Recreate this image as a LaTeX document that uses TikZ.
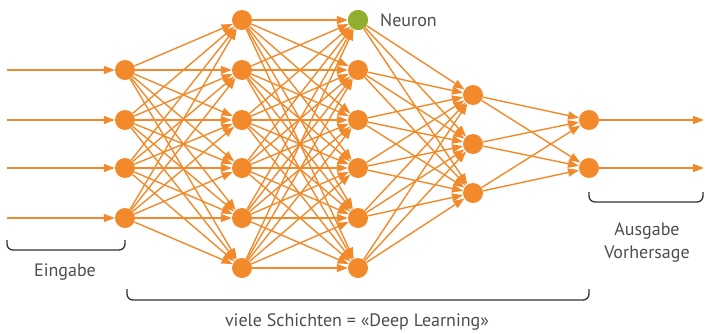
\documentclass[tikz,border=0pt]{standalone}
\usepackage{fontspec}
\setmainfont{PT Sans}
\usetikzlibrary{arrows.meta}

\definecolor{nnorange}{HTML}{F28A2B}
\definecolor{nngreen}{HTML}{8FB02E}
\definecolor{textgray}{HTML}{4D4D4D}
\definecolor{bracegray}{HTML}{333333}

\begin{document}
\begin{tikzpicture}[x=1pt,y=-1pt]
\tikzstyle{every node}=[font=\fontsize{18}{23}\selectfont, text=textgray]
\tikzstyle{neuron}=[circle, fill=nnorange, minimum size=20pt, inner sep=0pt]
\tikzstyle{link}=[draw=nnorange, line width=1.4pt, -{Triangle[length=11pt,width=8pt]}]
\tikzstyle{brace}=[draw=bracegray, line width=1.3pt, rounded corners=6pt]

\useasboundingbox (0,0) rectangle (705,333);

% input layer
\foreach \i/\y in {1/70,2/120,3/168,4/218} {
	\coordinate (x\i) at (7,\y);
	\node[neuron] (a\i) at (125,\y) {};
}

% hidden layers
\foreach \i/\y in {1/20,2/70,3/120,4/168,5/218,6/268} {
	\node[neuron] (b\i) at (242,\y) {};
	\node[neuron] (c\i) at (358,\y) {};
}
\node[neuron, fill=nngreen] at (c1) {};
\foreach \i/\y in {1/95,2/144,3/193}
	\node[neuron] (d\i) at (473,\y) {};

% output layer
\foreach \i/\y in {1/120,2/168} {
	\node[neuron] (e\i) at (589,\y) {};
	\coordinate (y\i) at (704,\y);
}

% connections
\foreach \i in {1,...,4} \draw[link] (x\i) -- (a\i);
\foreach \i in {1,...,4} \foreach \j in {1,...,6} \draw[link] (a\i) -- (b\j);
\foreach \i in {1,...,6} \foreach \j in {1,...,6} \draw[link] (b\i) -- (c\j);
\foreach \i in {1,...,6} \foreach \j in {1,...,3} \draw[link] (c\i) -- (d\j);
\foreach \i in {1,...,3} \foreach \j in {1,2} \draw[link] (d\i) -- (e\j);
\foreach \i in {1,2} \draw[link] (e\i) -- (y\i);

% labels
\node[anchor=west, inner sep=0pt] (neuronlabel) at (380,20) {Neuron};

\draw[brace] (7,240) -- (7,250) -- (125,250) -- (125,240);
\node (eingabe) at (65,272) {Eingabe};

\draw[brace] (589,192) -- (589,202) -- (703,202) -- (703,192);
\node[align=center] (ausgabe) at (647,243) {Ausgabe\\Vorhersage};

\draw[brace] (127,289) -- (127,300) -- (589,300) -- (589,289);
\node (schichten) at (357,322) {viele Schichten = «Deep Learning»};

\end{tikzpicture}
\end{document}
